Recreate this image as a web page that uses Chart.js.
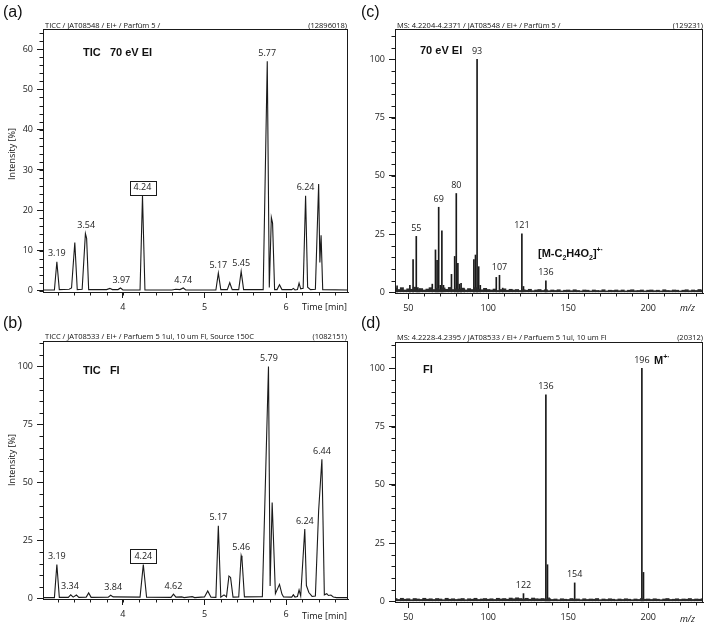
<!DOCTYPE html>
<html>
<head>
<meta charset="utf-8">
<script src="https://cdn.jsdelivr.net/npm/chart.js@4.4.0/dist/chart.umd.min.js"></script>
<style>
  body { margin: 0; background: #fff; width: 707px; height: 625px; overflow: hidden; position: relative;
         font-family: "Open Sans", sans-serif; color: #111; }
  canvas { position: absolute; }
  .t { position: absolute; white-space: pre; }
  .letter { font: 16px "Liberation Sans", Arial, sans-serif; line-height: 20px; }
  .hdr { font-size: 7.5px; line-height: 8px; display: flex; justify-content: space-between; }
  .bold { font: bold 11px "Liberation Sans", Arial, sans-serif; line-height: 14px; }
  .ax { font-size: 9px; line-height: 12px; }
  .ytitle { font-size: 9px; line-height: 12px; width: 80px; text-align: center; transform: rotate(-90deg); }
  sub, sup { font-size: 7px; line-height: 0; }
</style>
</head>
<body>
<canvas id="chA" width="360" height="312" style="left:0;top:0"></canvas>
<canvas id="chB" width="360" height="313" style="left:0;top:312px"></canvas>
<canvas id="chC" width="355" height="312" style="left:352px;top:0"></canvas>
<canvas id="chD" width="355" height="313" style="left:352px;top:312px"></canvas>

<div class="t letter" style="left:3px;top:2px">(a)</div>
<div class="t letter" style="left:3px;top:313px">(b)</div>
<div class="t letter" style="left:361px;top:2px">(c)</div>
<div class="t letter" style="left:361px;top:313px">(d)</div>

<div class="t hdr" style="left:45px;top:21px;width:302px"><span>TICC / JAT08548 / EI+ / Parfüm 5 /</span><span>(12896018)</span></div>
<div class="t hdr" style="left:45px;top:332px;width:302px"><span>TICC / JAT08533 / EI+ / Parfuem 5 1ul, 10 um FI, Source 150C</span><span>(1082151)</span></div>
<div class="t hdr" style="left:397px;top:21px;width:306px"><span>MS: 4.2204-4.2371 / JAT08548 / EI+ / Parfüm 5 /</span><span>(129231)</span></div>
<div class="t hdr" style="left:397px;top:333px;width:306px"><span>MS: 4.2228-4.2395 / JAT08533 / EI+ / Parfuem 5 1ul, 10 um FI</span><span>(20312)</span></div>

<div class="t bold" style="left:83px;top:45px">TIC   70 eV EI</div>
<div class="t bold" style="left:83px;top:363px">TIC   FI</div>
<div class="t bold" style="left:420px;top:43px">70 eV EI</div>
<div class="t bold" style="left:423px;top:362px">FI</div>
<div class="t bold" style="left:538px;top:246px">[M-C<sub>2</sub>H4O<sub>2</sub>]<sup>+·</sup></div>
<div class="t bold" style="left:654px;top:353px">M<sup>+·</sup></div>

<div class="t ytitle" style="left:-28px;top:148px">Intensity [%]</div>
<div class="t ytitle" style="left:-28px;top:454px">Intensity [%]</div>
<div class="t ax" style="left:302px;top:301px">Time [min]</div>
<div class="t ax" style="left:302px;top:610px">Time [min]</div>
<div class="t ax" style="left:680px;top:302px;font-style:italic">m/z</div>
<div class="t ax" style="left:680px;top:613px;font-style:italic">m/z</div>

<script>
// ---- (a) TIC, 70 eV EI ----
const ticTimeA = [3.02,3.16,3.19,3.22,3.34,3.37,3.41,3.44,3.50,3.54,3.555,3.58,3.80,3.84,3.87,3.94,3.97,4.00,
  4.21,4.24,4.27,4.60,4.65,4.70,4.74,4.77,5.14,5.17,5.20,5.28,5.31,5.34,5.42,5.45,5.48,5.72,5.77,5.795,5.82,5.835,
  5.86,5.89,5.92,5.95,6.07,6.09,6.11,6.14,6.16,6.18,6.21,6.24,6.265,6.30,6.36,6.40,6.415,6.43,6.45,6.76];
const ticIntA = [0.2,0.2,7.2,0.3,0.4,0.7,12.0,0.3,0.4,14.2,13.0,0.3,0.3,0.6,0.3,0.3,0.7,0.2,
  0.2,23.6,0.2,0.2,0.4,0.3,0.7,0.2,0.2,4.4,0.3,0.3,2.0,0.3,0.3,4.8,0.3,0.3,57.0,0.8,18.2,16.8,
  0.3,0.3,1.5,0.3,0.3,0.6,0.2,0.3,1.9,0.5,0.6,23.6,0.9,0.3,0.4,26.5,7.0,13.8,0.3,0.2];
const peaksA = [
  { x: 3.19, y: 7.2, text: '3.19' }, { x: 3.55, y: 14.2, text: '3.54' }, { x: 3.98, y: 0.7, text: '3.97' },
  { x: 4.24, y: 23.6, text: '4.24', box: true }, { x: 4.74, y: 0.7, text: '4.74' }, { x: 5.17, y: 4.4, text: '5.17' },
  { x: 5.45, y: 4.8, text: '5.45' }, { x: 5.77, y: 57.0, text: '5.77' }, { x: 6.24, y: 23.6, text: '6.24' }
];
const xTicksTime = [4, 5, 6];
const yTicksA = [0, 10, 20, 30, 40, 50, 60];

// ---- (b) TIC, FI ----
const ticTimeB = [3.02,3.16,3.19,3.22,3.33,3.36,3.39,3.43,3.46,3.55,3.58,3.61,3.82,3.85,3.88,4.21,4.25,4.29,
  4.59,4.62,4.65,4.72,4.75,4.85,4.88,5.00,5.04,5.08,5.14,5.17,5.20,5.24,5.27,5.30,5.32,5.35,5.42,5.45,5.46,5.49,
  5.71,5.785,5.805,5.83,5.87,5.92,5.95,5.97,6.07,6.09,6.11,6.14,6.16,6.18,6.23,6.25,6.28,6.32,6.36,6.40,6.44,
  6.47,6.50,6.52,6.55,6.58,6.62,6.76];
const ticIntB = [0.3,0.3,14.6,0.4,0.4,1.5,0.5,1.4,0.4,0.5,2.3,0.4,0.5,1.3,0.6,0.5,14.6,0.5,
  0.4,1.8,0.5,0.6,0.3,0.7,0.3,0.6,3.2,0.5,0.4,31.3,0.5,1.5,0.6,9.6,9.0,0.5,0.6,18.4,17.0,0.6,
  0.7,100,5.3,41.3,2.0,6.0,1.8,0.6,0.5,1.5,0.5,0.8,3.6,1.0,29.9,5.5,2.5,0.8,1.0,37.9,60.0,
  1.5,2.0,1.2,1.4,0.6,0.3,0.3];
const peaksB = [
  { x: 3.19, y: 14.6, text: '3.19' }, { x: 3.35, y: 1.5, text: '3.34' }, { x: 3.88, y: 1.3, text: '3.84' },
  { x: 4.25, y: 14.6, text: '4.24', box: true }, { x: 4.62, y: 1.8, text: '4.62' }, { x: 5.17, y: 31.3, text: '5.17' },
  { x: 5.45, y: 18.4, text: '5.46' }, { x: 5.79, y: 100, text: '5.79' }, { x: 6.23, y: 29.9, text: '6.24' },
  { x: 6.44, y: 60.0, text: '6.44' }
];
const yTicksPct = [0, 25, 50, 75, 100];

// ---- (c) mass spectrum at 4.24 min, EI ----
const mzC = [43,51,53,55,56,57,65,67,68,69,70,71,72,77,79,80,81,82,83,85,91,92,93,94,95,105,107,109,121,122,136];
const intC = [2.8,3.0,14.0,24.0,2.0,1.5,3.5,18.2,13.7,36.5,3.0,26.4,3.0,7.7,15.4,42.4,12.4,3.5,3.8,1.5,
  14.0,16.0,100,11.0,3.0,6.4,7.3,1.8,25.1,2.5,4.9];
const peaksC = [
  { x: 55, y: 24.0, text: '55' }, { x: 69, y: 36.5, text: '69' }, { x: 80, y: 42.4, text: '80' },
  { x: 93, y: 100, text: '93' }, { x: 107, y: 7.3, text: '107' }, { x: 121, y: 25.1, text: '121' },
  { x: 136, y: 4.9, text: '136' }
];
// baseline noise, every 2 m/z from 42
const noiseC = [1.8,1.2,2.0,1.0,1.5,1.3,2.2,1.1,1.6,1.0, 1.4,2.0,1.2,1.7,1.1,1.9,1.3,2.1,1.2,1.5,
  1.3,1.8,1.0,1.6,1.2,2.0,1.4,1.1,1.7,1.2, 1.0,1.4,0.8,1.2,1.5,0.9,1.3,1.0,1.2,0.8,
  1.1,0.9,1.3,0.7,1.0,1.2,0.8,1.1,0.7,1.0, 0.8,1.1,0.6,0.9,1.0,0.7,1.1,0.8,0.6,1.0,
  0.9,0.6,1.0,0.8,0.7,1.1,0.6,0.9,0.8,1.0, 0.7,1.0,0.6,0.9,1.1,0.7,0.8,1.0,0.6,0.9,
  1.0,0.7,0.9,0.6,1.1,0.8,0.7,1.0,0.9,0.6, 0.9,1.1,0.7,1.0,0.8,1.2,0.9];

// ---- (d) mass spectrum at 4.24 min, FI ----
const mzD = [122,136,137,138,154,196,197];
const intD = [3.3,88.6,15.7,1.5,7.9,100,12.4];
const peaksD = [
  { x: 122, y: 3.3, text: '122' }, { x: 136, y: 88.6, text: '136' }, { x: 154, y: 7.9, text: '154' },
  { x: 196, y: 100, text: '196' }
];
const noiseD = [1.2,0.8,1.3,0.9,1.1,0.7,1.2,1.0,0.8,1.3, 0.9,1.1,0.8,1.2,1.0,0.7,1.3,0.9,1.1,0.8,
  1.0,1.2,0.7,1.1,0.9,1.3,0.8,1.0,1.2,0.9, 1.1,0.8,1.3,1.0,1.2,0.9,1.4,1.1,1.5,1.2,
  1.0,1.3,0.9,1.4,1.1,1.0,1.2,0.9,1.1,0.8, 1.0,0.7,1.1,0.9,0.8,1.2,0.9,1.0,0.7,1.1,
  0.8,1.0,0.9,1.2,0.7,1.0,0.8,1.1,0.9,0.7, 1.0,0.8,1.1,0.9,0.7,1.0,0.8,1.2,0.9,1.0,
  0.8,1.1,0.9,0.7,1.0,1.2,0.8,0.9,1.1,0.8, 1.0,0.9,1.2,0.8,1.0,0.9,1.1];
const noiseMz = noiseC.map((_, i) => 42 + i * 2);
const xTicksMz = [50, 100, 150, 200];

const INK = '#1a1a1a';
const tickFont = { family: '"Open Sans", sans-serif', size: 9 };

// frame box, minor ticks and peak labels
const framePlugin = {
  id: 'frame',
  afterDraw(chart, args, opts) {
    const { ctx, chartArea: a, scales } = chart;
    const xs = scales.x, ys = scales.y;
    ctx.save();
    ctx.strokeStyle = INK;
    ctx.lineWidth = 1;
    ctx.strokeRect(Math.round(a.left) + 0.5, Math.round(a.top) + 0.5,
      Math.round(a.right - a.left) - 1, Math.round(a.bottom - a.top));
    ctx.beginPath();
    for (let i = Math.ceil(ys.min / opts.yMinor); i * opts.yMinor <= ys.max; i++) {
      const py = Math.round(ys.getPixelForValue(i * opts.yMinor)) + 0.5;
      ctx.moveTo(a.left - 3.5, py); ctx.lineTo(a.left, py);
    }
    for (let i = Math.ceil(xs.min / opts.xMinor - 1e-6); i * opts.xMinor <= xs.max + 1e-9; i++) {
      const px = Math.round(xs.getPixelForValue(i * opts.xMinor)) + 0.5;
      ctx.moveTo(px, a.bottom); ctx.lineTo(px, a.bottom + 3.5);
    }
    ctx.stroke();
    ctx.font = '9px "Open Sans", sans-serif';
    ctx.textAlign = 'center';
    ctx.textBaseline = 'middle';
    ctx.fillStyle = INK;
    for (const l of opts.labels) {
      const px = xs.getPixelForValue(l.x);
      const py = ys.getPixelForValue(l.y) - 8;
      ctx.fillText(l.text, px, py);
      if (l.box) {
        const w = ctx.measureText(l.text).width + 8;
        ctx.strokeRect(Math.round(px - w / 2) + 0.5, Math.round(py - 7) + 0.5, Math.round(w), 14);
      }
    }
    ctx.restore();
  }
};

function makePanel(id, o) {
  return new Chart(document.getElementById(id), {
    type: o.type,
    data: { datasets: o.datasets },
    options: {
      responsive: false,
      animation: false,
      events: [],
      layout: { padding: { top: o.top, right: o.right, left: 0, bottom: 0 } },
      plugins: {
        legend: { display: false },
        tooltip: { enabled: false },
        frame: { yMinor: o.yMinor, xMinor: o.xMinor, labels: o.labels }
      },
      scales: {
        x: {
          type: 'linear', min: o.xMin, max: o.xMax, offset: false,
          afterBuildTicks: s => { s.ticks = o.xTicks.map(v => ({ value: v })); },
          afterFit: s => { s.height = o.xAxisH; },
          grid: { drawOnChartArea: false, offset: false, tickLength: 6, color: INK },
          border: { color: INK },
          ticks: { font: tickFont, color: INK, padding: 4, maxRotation: 0, autoSkip: false }
        },
        y: {
          type: 'linear', min: o.yMin, max: o.yMax,
          afterBuildTicks: s => { s.ticks = o.yTicks.map(v => ({ value: v })); },
          afterFit: s => { s.width = 43; },
          grid: { drawOnChartArea: false, tickLength: 6, color: INK },
          border: { color: INK },
          ticks: { font: tickFont, color: INK, padding: 4 }
        }
      }
    },
    plugins: [framePlugin]
  });
}

const pts = (xs, ys) => xs.map((x, i) => ({ x, y: ys[i] }));
const lineSet = (xs, ys) => ({ data: pts(xs, ys), borderColor: INK, borderWidth: 1.1, pointRadius: 0, tension: 0, fill: false });
const stickSet = (xs, ys, w, c) => ({ data: pts(xs, ys), backgroundColor: c, barThickness: w, borderWidth: 0, grouped: false });

makePanel('chA', {
  type: 'line', datasets: [lineSet(ticTimeA, ticIntA)], labels: peaksA,
  xMin: 3.02, xMax: 6.76, xTicks: xTicksTime, xMinor: 0.2,
  yMin: -0.3, yMax: 65, yTicks: yTicksA, yMinor: 2,
  top: 29, right: 12, xAxisH: 20
});
makePanel('chB', {
  type: 'line', datasets: [lineSet(ticTimeB, ticIntB)], labels: peaksB,
  xMin: 3.02, xMax: 6.76, xTicks: xTicksTime, xMinor: 0.2,
  yMin: -0.3, yMax: 111, yTicks: yTicksPct, yMinor: 5,
  top: 29, right: 12, xAxisH: 26
});
makePanel('chC', {
  type: 'bar', datasets: [stickSet(noiseMz, noiseC, 3.3, '#2a2a2a'), stickSet(mzC, intC, 1, INK)], labels: peaksC,
  xMin: 41.7, xMax: 234.2, xTicks: xTicksMz, xMinor: 10,
  yMin: -0.3, yMax: 113, yTicks: yTicksPct, yMinor: 5,
  top: 29, right: 4, xAxisH: 19
});
makePanel('chD', {
  type: 'bar', datasets: [stickSet(noiseMz, noiseD, 3.3, '#2a2a2a'), stickSet(mzD, intD, 1, INK)], labels: peaksD,
  xMin: 41.7, xMax: 234.2, xTicks: xTicksMz, xMinor: 10,
  yMin: -0.3, yMax: 111.3, yTicks: yTicksPct, yMinor: 5,
  top: 30, right: 4, xAxisH: 23
});
</script>
</body>
</html>
